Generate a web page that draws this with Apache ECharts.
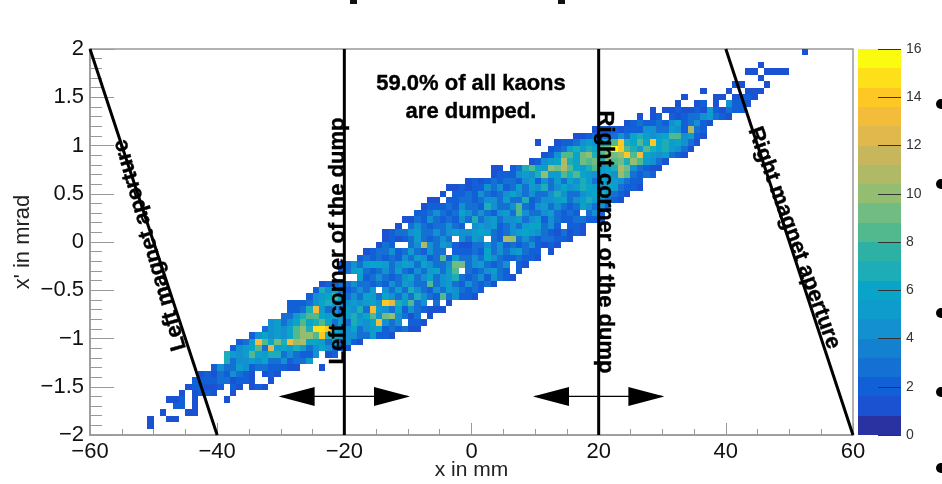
<!DOCTYPE html>
<html>
<head>
<meta charset="utf-8">
<style>
	html, body { margin: 0; padding: 0; background: #fff; }
	#chart { width: 942px; height: 484px; filter: blur(0.4px); }
</style>
<script src="https://cdn.jsdelivr.net/npm/echarts@6/dist/echarts.min.js"></script>
</head>
<body>
<div id="chart"></div>
<script>
	// first filled x bin of each y bin, y bins counted from the bottom (1 mm x 1/15 mrad)
	const rowIndex = [1, 2, 3, 4, 5, 6, 7, 8, 9, 10, 11, 12, 13, 14, 15, 16, 17, 18, 19, 20, 21, 22, 23, 24, 25, 26, 27, 28, 29, 30, 31, 32, 33, 34, 35, 36, 37, 38, 39, 40, 41, 42, 43, 44, 45, 46, 47, 48, 49, 50, 51, 52, 53, 54, 55, 56, 57, 59];
	const rowStart = [9, 9, 11, 13, 12, 14, 15, 16, 17, 19, 21, 21, 22, 23, 25, 27, 28, 30, 31, 31, 34, 35, 36, 42, 39, 39, 42, 43, 45, 46, 46, 48, 49, 51, 52, 53, 55, 56, 59, 63, 63, 69, 71, 72, 70, 76, 79, 84, 86, 88, 92, 93, 96, 101, 105, 103, 105, 112];
	const rowCounts = [
		[1],
		[1, 0, 0, 1, 1],
		[1, 0, 0, 0, 1, 1],
		[2, 2, 0, 1],
		[1, 1, 2, 0, 1, 0, 0, 0, 0, 1],
		[1, 0, 1, 2, 2, 1, 0, 0, 1],
		[1, 2, 2, 1, 1, 2, 0, 2, 1, 0, 1, 2, 1],
		[2, 2, 2, 2, 3, 3, 1, 2, 2, 1, 0, 0, 1],
		[1, 2, 1, 3, 2, 4, 3, 2, 1, 0, 1, 2, 1],
		[2, 4, 3, 3, 5, 4, 2, 3, 3, 2, 2, 2, 1, 1, 0, 0, 0, 1],
		[7, 3, 4, 4, 5, 4, 6, 3, 3, 4, 2, 3, 3, 5],
		[7, 5, 4, 5, 8, 6, 5, 7, 7, 3, 4, 3, 2, 2, 4, 0, 1, 2],
		[2, 4, 5, 6, 8, 3, 12, 5, 6, 5, 7, 5, 3, 4, 6, 4, 2, 2, 1],
		[2, 3, 5, 13, 8, 6, 9, 7, 13, 10, 11, 6, 6, 5, 3, 6, 2, 4, 2, 1],
		[2, 4, 6, 4, 5, 4, 6, 8, 10, 10, 8, 14, 7, 6, 5, 4, 4, 3, 3, 5, 2, 2, 1],
		[3, 4, 5, 4, 6, 8, 10, 7, 15, 15, 14, 6, 4, 4, 6, 3, 4, 5, 6, 2, 3, 2, 3, 1, 1],
		[4, 5, 3, 4, 6, 8, 6, 7, 8, 6, 3, 5, 3, 7, 5, 4, 6, 13, 4, 3, 4, 0, 2, 2, 1],
		[3, 3, 5, 7, 8, 8, 6, 5, 6, 4, 5, 7, 4, 6, 8, 4, 9, 10, 4, 3, 1, 3, 0, 1],
		[2, 2, 3, 7, 13, 5, 3, 4, 3, 5, 4, 7, 3, 13, 5, 4, 3, 6, 2, 4, 3, 2, 1, 1, 1],
		[2, 2, 2, 3, 4, 6, 7, 4, 5, 4, 5, 4, 5, 6, 4, 14, 12, 7, 5, 8, 3, 4, 0, 3, 0, 1],
		[2, 4, 5, 6, 8, 5, 3, 4, 3, 6, 5, 3, 6, 4, 3, 5, 3, 7, 4, 3, 2, 8, 3, 4, 2, 2, 1],
		[2, 7, 4, 6, 3, 2, 3, 4, 3, 5, 0, 4, 3, 5, 3, 7, 4, 3, 2, 4, 3, 5, 4, 3, 2, 3, 2],
		[1, 2, 2, 3, 3, 4, 3, 3, 2, 3, 2, 4, 3, 5, 4, 3, 3, 8, 3, 4, 5, 3, 2, 4, 3, 2, 3, 1],
		[5, 2, 3, 4, 3, 2, 3, 4, 6, 3, 4, 6, 3, 4, 5, 7, 3, 2, 3, 4, 2, 4, 3, 2, 1],
		[2, 3, 5, 6, 3, 2, 3, 4, 3, 5, 3, 2, 4, 3, 5, 6, 3, 5, 8, 0, 3, 2, 3, 4, 5, 3, 2, 0, 2],
		[2, 3, 4, 3, 5, 6, 6, 5, 3, 4, 6, 5, 3, 6, 4, 3, 3, 4, 9, 9, 3, 4, 5, 3, 2, 3, 4, 0, 2, 1],
		[2, 3, 2, 3, 2, 3, 2, 4, 3, 5, 4, 2, 3, 8, 2, 5, 3, 3, 4, 3, 6, 4, 3, 2, 2, 3, 2, 2, 1],
		[1, 2, 3, 3, 4, 2, 3, 5, 3, 2, 4, 3, 3, 0, 2, 2, 2, 3, 2, 6, 3, 4, 3, 4, 5, 3, 2, 2, 0, 1],
		[1, 3, 2, 0, 0, 3, 4, 11, 4, 3, 5, 4, 2, 1, 1, 3, 3, 4, 3, 4, 2, 3, 2, 3, 4, 2, 1, 2, 1],
		[1, 2, 1, 2, 3, 5, 3, 2, 3, 4, 3, 0, 4, 3, 5, 4, 0, 3, 2, 11, 10, 3, 4, 3, 2, 3, 3, 2, 2, 1],
		[1, 2, 3, 3, 4, 5, 3, 3, 4, 3, 4, 5, 4, 4, 5, 6, 5, 3, 2, 3, 4, 5, 6, 5, 4, 3, 2, 1, 3, 1, 2, 1],
		[1, 0, 3, 4, 3, 2, 3, 3, 4, 3, 2, 0, 4, 5, 4, 5, 2, 3, 4, 3, 5, 6, 6, 3, 4, 2, 0, 2, 2, 1],
		[1, 1, 3, 2, 4, 3, 2, 3, 2, 4, 3, 7, 3, 4, 5, 3, 4, 4, 5, 3, 4, 5, 2, 4, 3, 2, 2, 3, 3, 2, 2, 1],
		[2, 2, 3, 4, 3, 2, 3, 6, 4, 3, 4, 3, 2, 4, 5, 3, 8, 4, 3, 3, 4, 5, 3, 2, 3, 2, 0, 3, 4, 2],
		[1, 2, 2, 2, 3, 2, 4, 3, 3, 2, 7, 4, 3, 3, 4, 8, 3, 2, 4, 5, 3, 4, 3, 2, 3, 6, 4, 3, 4, 2],
		[1, 1, 0, 2, 2, 3, 3, 2, 3, 4, 4, 3, 5, 3, 3, 7, 2, 3, 4, 4, 5, 6, 3, 4, 5, 7, 5, 4, 3, 2, 1],
		[1, 0, 2, 2, 3, 2, 4, 3, 2, 3, 4, 6, 4, 3, 4, 3, 3, 4, 7, 4, 3, 3, 4, 5, 6, 7, 6, 3, 2, 1],
		[1, 1, 2, 1, 2, 2, 4, 3, 4, 2, 3, 5, 3, 5, 4, 7, 3, 4, 6, 4, 5, 7, 6, 5, 4, 6, 5, 3, 2, 2, 1],
		[1, 2, 1, 2, 3, 2, 3, 3, 2, 4, 5, 2, 4, 3, 5, 3, 6, 4, 7, 5, 3, 6, 4, 5, 4, 3, 2, 2],
		[1, 2, 2, 2, 4, 5, 4, 7, 10, 5, 5, 8, 7, 8, 6, 5, 4, 5, 6, 4, 10, 8, 3, 2, 3, 2],
		[1, 1, 0, 2, 3, 7, 8, 6, 5, 10, 9, 11, 8, 6, 5, 7, 8, 5, 6, 7, 11, 9, 4, 3, 2, 1, 1],
		[1, 2, 4, 5, 6, 11, 7, 6, 9, 8, 9, 7, 10, 8, 9, 7, 10, 8, 5, 4, 3, 1],
		[1, 2, 4, 8, 8, 6, 9, 10, 7, 8, 10, 9, 10, 14, 8, 13, 6, 5, 4, 5, 3, 2, 1],
		[1, 2, 3, 6, 7, 5, 7, 6, 8, 9, 16, 14, 8, 7, 5, 8, 7, 6, 7, 5, 4, 3, 1],
		[1, 0, 0, 1, 2, 2, 3, 4, 5, 4, 5, 6, 8, 14, 7, 6, 8, 6, 14, 6, 7, 5, 6, 4, 3, 1],
		[1, 1, 2, 3, 3, 2, 3, 4, 3, 6, 7, 5, 4, 5, 6, 8, 8, 4, 5, 2, 1],
		[1, 1, 1, 2, 1, 2, 2, 2, 4, 4, 3, 3, 5, 4, 2, 11, 3, 2],
		[1, 2, 3, 2, 2, 3, 2, 4, 6, 2, 3, 4, 2, 1],
		[1, 0, 1, 2, 0, 2, 1, 2, 3, 3, 4, 5, 3, 2, 1],
		[1, 0, 1, 1, 2, 1, 1, 2, 1, 5, 2, 1, 3, 2, 2],
		[1, 0, 0, 1, 2, 0, 1, 0, 4, 2, 2, 1],
		[1, 0, 0, 0, 0, 1, 1, 0, 1, 2, 2, 1],
		[1, 0, 0, 0, 1, 0, 0, 1, 1, 1],
		[1, 1, 0, 0, 0, 1],
		[1],
		[1, 1, 0, 1, 1, 1, 1],
		[1],
		[1]
	];

	const xMin = -60, xMax = 60, yMin = -2, yMax = 2;
	const yBinsPerUnit = 15;

	// z palette, 20 contour levels from 0 to 16
	const levelStep = 0.8;
	const levelColors = ['#2a31a0', '#1a52d2', '#1160d8', '#1470d2', '#1480d0', '#1290cf', '#0e9ccc', '#09a5c8', '#1cadb8', '#2cb1a4', '#52b98f', '#70bc82', '#93bd70', '#b0b966', '#c8b65c', '#e0b84c', '#f3bc3a', '#fdc824', '#fde01a', '#fbfb10'];

	const leftMagnet = [[-60, 2], [-40, -2]];
	const rightMagnet = [[40, 2], [60, -2]];
	const leftDump = [[-20, 2], [-20, -2]];
	const rightDump = [[20, 2], [20, -2]];
	const leftArrow = [[-30, -1.6], [-10, -1.6]];
	const rightArrow = [[10, -1.6], [30, -1.6]];
	const headsPointingLeft = [[-27.5, -1.6], [12.5, -1.6]];
	const headsPointingRight = [[-12.5, -1.6], [27.5, -1.6]];

	const cells = [];
	rowCounts.forEach((counts, i) => {
		counts.forEach((count, j) => {
			if (count > 0) {
				cells.push([xMin + rowStart[i] + j, yMin + rowIndex[i] / yBinsPerUnit, count]);
			}
		});
	});
	const bands = levelColors.map((c, i) => [i * levelStep, (i + 1) * levelStep, i]);

	function renderCell (params, api) {
		const a = api.coord([api.value(0), api.value(1) + 1 / yBinsPerUnit]);
		const b = api.coord([api.value(0) + 1, api.value(1)]);
		const level = Math.min(Math.floor(api.value(2) / levelStep), levelColors.length - 1);
		const x = Math.round(a[0]), y = Math.round(a[1]);
		return {
			type: 'rect',
			shape: { x: x, y: y, width: Math.round(b[0]) - x, height: Math.round(b[1]) - y },
			style: { fill: levelColors[level] }
		};
	}

	function renderBand (params, api) {
		const a = api.coord([0, api.value(1)]);
		const b = api.coord([1, api.value(0)]);
		const y = Math.round(a[1]);
		return {
			type: 'rect',
			shape: { x: a[0], y: y, width: b[0] - a[0], height: Math.round(b[1]) - y },
			style: { fill: levelColors[api.value(2)] }
		};
	}

	function straight (data, width) {
		return {
			type: 'line',
			data: data,
			symbol: 'none',
			silent: true,
			z: 5,
			lineStyle: { color: '#000', width: width }
		};
	}

	function head (data, rotate) {
		return {
			type: 'scatter',
			data: data,
			symbol: 'triangle',
			symbolSize: [19, 36],
			symbolRotate: rotate,
			silent: true,
			z: 6,
			itemStyle: { color: '#000', opacity: 1 }
		};
	}

	function label (text, x, y, angle, size) {
		return {
			type: 'text',
			x: x,
			y: y,
			rotation: angle * Math.PI / 180,
			z: 20,
			style: {
				text: text,
				fill: '#000',
				stroke: '#000',
				lineWidth: 0.4,
				align: 'center',
				verticalAlign: 'middle',
				font: 'bold ' + size + 'px "Liberation Sans", Arial, sans-serif'
			}
		};
	}

	function bullet (y) {
		return { type: 'circle', shape: { cx: 941, cy: y, r: 5 }, style: { fill: '#000' } };
	}

	const minus = v => String(v).replace('-', '\u2212');
	const axisColor = '#999';
	const font = '"Liberation Sans", Arial, sans-serif';

	const chart = echarts.init(document.getElementById('chart'));
	chart.setOption({
		animation: false,
		backgroundColor: '#fff',
		grid: [
			{ left: 90, right: 89, top: 49, bottom: 49, show: true, borderColor: axisColor, borderWidth: 1.5, outerBoundsMode: 'none' },
			{ left: 858, right: 41, top: 49, bottom: 49, show: false, outerBoundsMode: 'none' }
		],
		xAxis: [
			{
				type: 'value',
				gridIndex: 0,
				min: xMin,
				max: xMax,
				interval: 20,
				name: 'x in mm',
				nameLocation: 'middle',
				nameGap: 25,
				nameMoveOverlap: false,
				nameTextStyle: { color: '#222', fontSize: 21, fontFamily: font },
				splitLine: { show: false },
				axisLine: { onZero: false, lineStyle: { color: axisColor, width: 1.5 } },
				axisTick: { inside: true, length: 12, lineStyle: { color: axisColor } },
				minorTick: { show: true, splitNumber: 4, length: 6, lineStyle: { color: axisColor } },
				axisLabel: { color: '#111', fontSize: 22, fontFamily: font, margin: 6, formatter: minus }
			},
			{ type: 'value', gridIndex: 1, min: 0, max: 1, show: false }
		],
		yAxis: [
			{
				type: 'value',
				gridIndex: 0,
				min: yMin,
				max: yMax,
				interval: 0.5,
				name: "x' in mrad",
				nameLocation: 'middle',
				nameGap: 56,
				nameMoveOverlap: false,
				nameTextStyle: { color: '#222', fontSize: 22, fontFamily: font },
				splitLine: { show: false },
				axisLine: { onZero: false, lineStyle: { color: axisColor, width: 1.5 } },
				axisTick: { inside: true, length: 24, lineStyle: { color: axisColor } },
				minorTick: { show: true, splitNumber: 5, length: 12, lineStyle: { color: axisColor } },
				axisLabel: { color: '#111', fontSize: 22, fontFamily: font, margin: 6, padding: [4, 0, 0, 0], formatter: minus }
			},
			{
				type: 'value',
				gridIndex: 1,
				position: 'right',
				min: 0,
				max: 16,
				interval: 2,
				splitLine: { show: false },
				axisLine: { show: false, onZero: false },
				axisTick: { inside: true, length: 23, lineStyle: { color: '#333' } },
				axisLabel: { color: '#333', fontSize: 14, fontFamily: font, margin: 5 },
				z: 10
			}
		],
		series: [
			{
				type: 'custom',
				coordinateSystem: 'cartesian2d',
				renderItem: renderCell,
				data: cells,
				silent: true,
				clip: true
			},
			{
				type: 'custom',
				coordinateSystem: 'cartesian2d',
				xAxisIndex: 1,
				yAxisIndex: 1,
				renderItem: renderBand,
				data: bands,
				silent: true
			},
			straight(leftMagnet, 3),
			straight(rightMagnet, 3),
			straight(leftDump, 3),
			straight(rightDump, 3),
			straight(leftArrow, 1.2),
			straight(rightArrow, 1.2),
			head(headsPointingLeft, 90),
			head(headsPointingRight, -90)
		],
		graphic: [
			label('59.0% of all kaons', 471, 84, 0, 22),
			label('are dumped.', 471, 112, 0, 22),
			label('Left magnet aperture', 150, 245, 106, 22),
			label('Left corner of the dump', 338, 241, 90, 22),
			label('Right corner of the dump', 605, 242, -90, 22),
			label('Right magnet aperture', 794, 238, -70, 22),
			{ type: 'rect', shape: { x: 350, y: 0, width: 7, height: 4 }, style: { fill: '#111' } },
			{ type: 'rect', shape: { x: 558, y: 0, width: 7, height: 4 }, style: { fill: '#111' } },
			bullet(104),
			bullet(184),
			bullet(313),
			bullet(392),
			bullet(468)
		]
	});
</script>
</body>
</html>
